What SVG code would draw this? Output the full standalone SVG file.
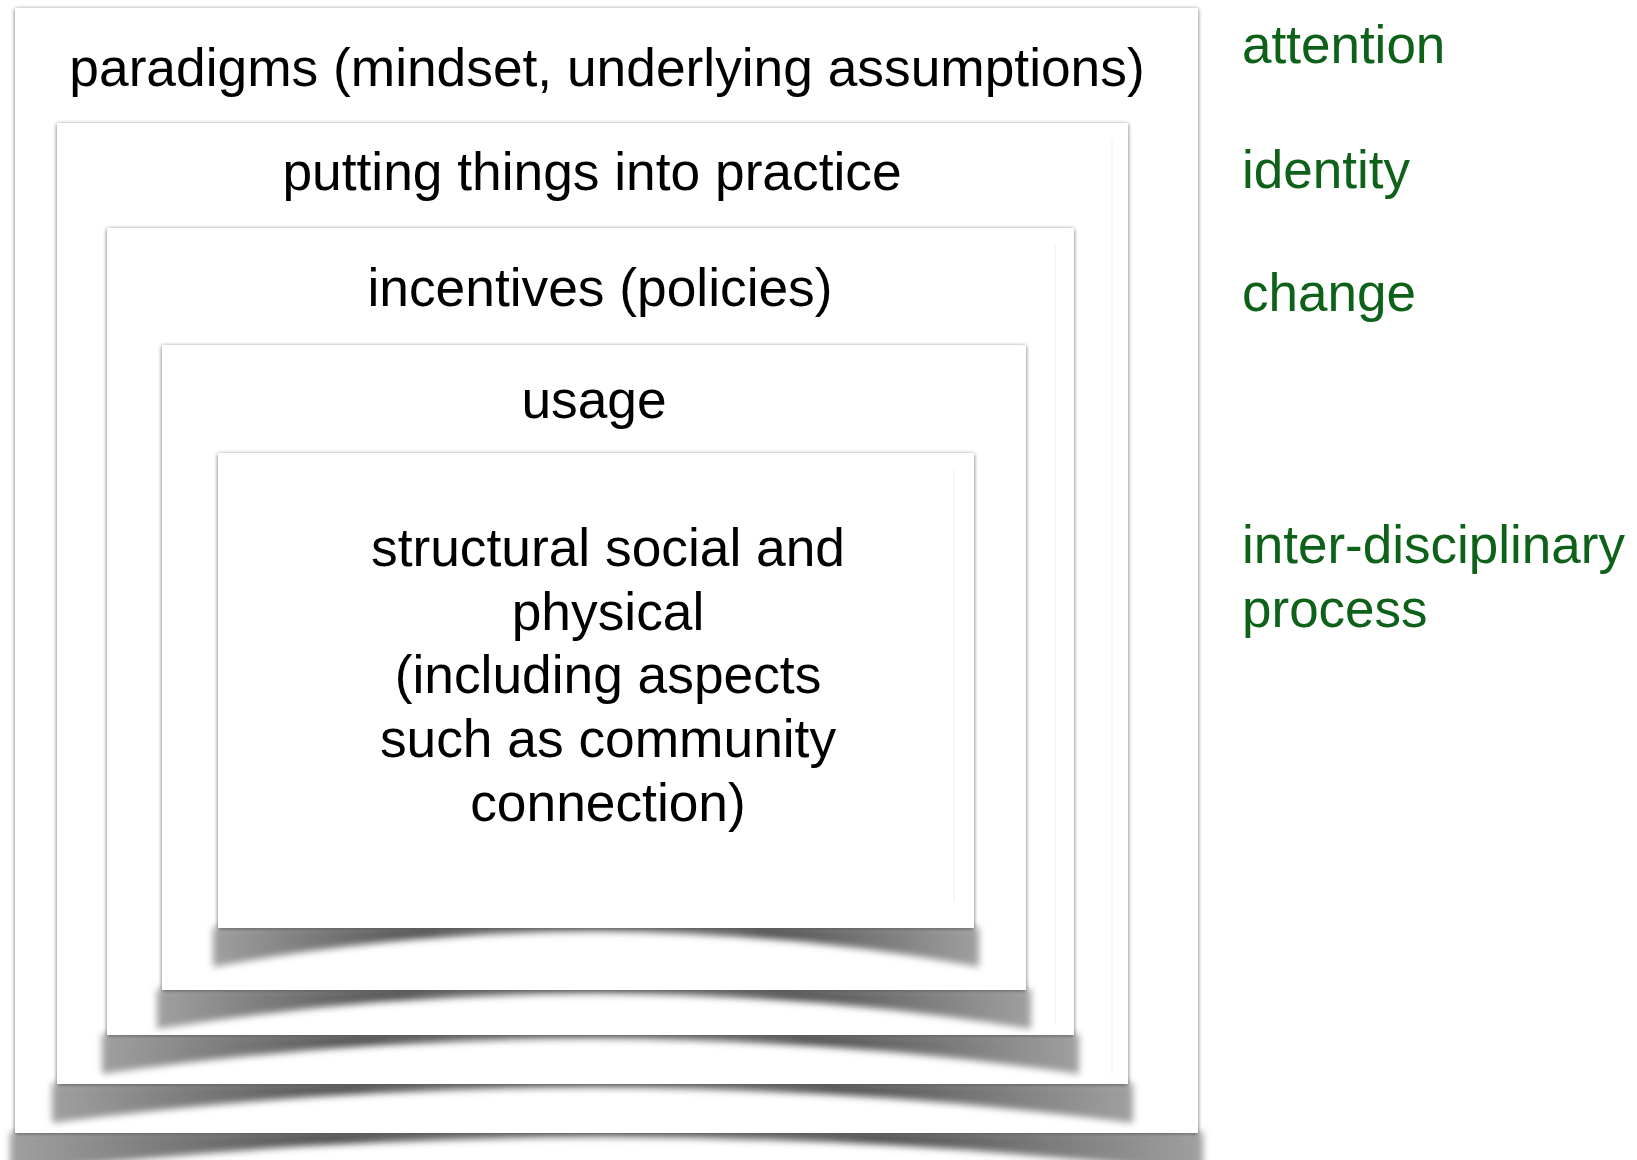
<svg xmlns="http://www.w3.org/2000/svg" width="1637" height="1160" viewBox="0 0 1637 1160">
<style>
.box{fill:#ffffff;filter:url(#edge)}
.shadow{fill:url(#sg);filter:url(#soft)}
.lbl{font-family:"Liberation Sans",Arial,sans-serif;font-size:53.3px;fill:#000;text-anchor:middle}
.side{font-family:"Liberation Sans",Arial,sans-serif;font-size:53px;fill:#0e6119}
.faint{stroke:#efefef;stroke-width:1;fill:none}
</style>
<defs>
<filter id="edge" x="-5%" y="-5%" width="110%" height="110%">
<feGaussianBlur in="SourceAlpha" stdDeviation="2" result="b"/>
<feOffset in="b" dx="0" dy="0.5" result="o"/>
<feComponentTransfer in="o" result="s"><feFuncA type="linear" slope="0.6"/></feComponentTransfer>
<feMerge><feMergeNode in="s"/><feMergeNode in="SourceGraphic"/></feMerge>
</filter>
<filter id="soft" x="-5%" y="-60%" width="110%" height="220%">
<feGaussianBlur stdDeviation="3.5"/>
</filter>
<linearGradient id="sg" x1="0" y1="0" x2="1" y2="0">
<stop offset="0" stop-color="#a0a0a0"/>
<stop offset="0.28" stop-color="#505050"/>
<stop offset="0.5" stop-color="#6a6a6a"/>
<stop offset="0.72" stop-color="#505050"/>
<stop offset="1" stop-color="#a0a0a0"/>
</linearGradient>
</defs>
<rect width="1637" height="1160" fill="#fff"/>

<g id="node-paradigms">
<path class="shadow" d="M10 1132 L1203 1132 L1203 1173 Q606 1101 10 1173 Z"/>
<rect class="box" x="15" y="8" width="1183" height="1125"/>
<text class="lbl" x="607" y="86">paradigms (mindset, underlying assumptions)</text>
</g>

<g id="node-practice">
<path class="shadow" d="M52 1083 L1133 1083 L1133 1123 Q592 1052 52 1123 Z"/>
<rect class="box" x="57" y="123" width="1071" height="961"/>
<line class="faint" x1="1112" y1="140" x2="1112" y2="1075"/>
<text class="lbl" x="592" y="190">putting things into practice</text>
</g>

<g id="node-incentives">
<path class="shadow" d="M102 1034 L1079 1034 L1079 1074 Q590 1003 102 1074 Z"/>
<rect class="box" x="107" y="228" width="967" height="807"/>
<line class="faint" x1="1055" y1="245" x2="1055" y2="1025"/>
<text class="lbl" x="600" y="306">incentives (policies)</text>
</g>

<g id="node-usage">
<path class="shadow" d="M157 989 L1031 989 L1031 1029 Q594 958 157 1029 Z"/>
<rect class="box" x="162" y="345" width="864" height="645"/>
<text class="lbl" x="594" y="418">usage</text>
</g>

<g id="node-structural">
<path class="shadow" d="M213 927 L979 927 L979 967 Q596 896 213 967 Z"/>
<rect class="box" x="218" y="453" width="756" height="475"/>
<line class="faint" x1="954" y1="470" x2="954" y2="902"/>
<text class="lbl" x="608"><tspan x="608" y="566">structural social and</tspan><tspan x="608" y="630">physical</tspan><tspan x="608" y="693">(including aspects</tspan><tspan x="608" y="757">such as community</tspan><tspan x="608" y="821">connection)</tspan></text>
</g>

<g id="node-labels">
<text class="side" x="1242" y="63">attention</text>
<text class="side" x="1242" y="188">identity</text>
<text class="side" x="1242" y="311">change</text>
<text class="side" x="1242"><tspan x="1242" y="563">inter-disciplinary</tspan><tspan x="1242" y="627">process</tspan></text>
</g>

<g id="connectors"></g>
</svg>
